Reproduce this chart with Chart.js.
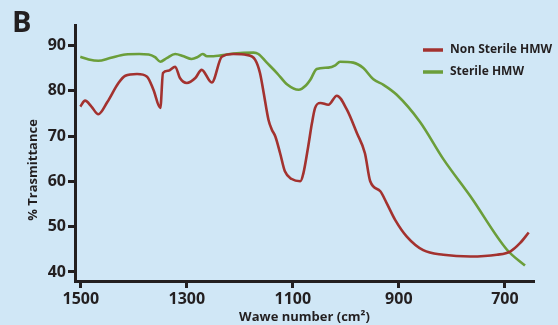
<!DOCTYPE html>
<html>
<head>
<meta charset="utf-8">
<script src="https://cdn.jsdelivr.net/npm/chart.js@4/dist/chart.umd.min.js"></script>
<style>
  html, body { margin: 0; padding: 0; background: #d0e7f6; }
  #wrap { position: relative; width: 558px; height: 325px; background: #d0e7f6; }
  #lbl { position: absolute; left: 12px; top: 1px; font: bold 29px "Open Sans", sans-serif; color: #231f20; }
  canvas { position: absolute; left: 0; top: 0; }
</style>
</head>
<body>
<div id="wrap">
  <canvas id="c" width="558" height="325"></canvas>
  <div id="lbl">B</div>
</div>
<script>
const seriesNames = ["Non Sterile HMW", "Sterile HMW"];
const xTickValues = [1500, 1300, 1100, 900, 700];
const yTickValues = [40, 50, 60, 70, 80, 90];

const nonSterileWave = [1501,1492,1480,1467,1450,1429,1416,1394,1375,1363,1350,1345,1335,1322,1313,1300,1284,1272,1253,1234,1212,1187,1171,1162,1155,1146,1140,1133,1124,1115,1102,1086,1080,1071,1064,1058,1048,1033,1017,998,979,964,954,935,923,907,885,854,816,765,715,690,671,655];
const nonSterileT    = [76.5,77.8,76.5,74.8,77.5,81.7,83.3,83.7,83.1,80.2,76.2,83.9,84.4,85.3,82.8,81.7,82.8,84.6,81.8,87.5,88.1,87.9,86.8,83.9,79.5,73.6,71.5,69.9,66.2,62.2,60.5,60.0,61.8,67.7,72.8,76.2,77.3,76.9,78.9,75.8,70.6,66.2,60.0,57.8,55.2,51.5,47.8,44.8,43.8,43.4,43.8,44.5,46.4,48.7];

const sterileWave = [1501,1485,1467,1445,1416,1390,1372,1360,1350,1338,1322,1306,1291,1280,1270,1262,1250,1212,1174,1165,1150,1130,1110,1089,1075,1067,1055,1033,1020,1011,986,967,948,929,904,860,816,765,696,662];
const sterileT    = [87.5,86.9,86.6,87.2,88.0,88.1,88.0,87.4,86.4,87.2,88.1,87.6,87.0,87.4,88.1,87.6,87.6,88.2,88.4,88.1,86.3,83.9,81.3,80.2,81.2,82.4,84.8,85.1,85.6,86.4,86.2,85.0,82.5,81.3,79.1,73.1,64.9,56.7,44.9,41.4];

const colors = ["#a3322f", "#6b9e3a"];
const dark = "#231f20";
const FONT = '"Open Sans", sans-serif';

function pts(xs, ys) { return xs.map((x, i) => ({x: x, y: ys[i]})); }

const customDraw = {
  id: 'customDraw',
  afterDraw(chart) {
    const ctx = chart.ctx;
    ctx.save();
    ctx.fillStyle = dark;
    ctx.font = 'bold 13px ' + FONT;
    ctx.translate(33, 170);
    ctx.rotate(-Math.PI / 2);
    ctx.textAlign = 'center';
    ctx.textBaseline = 'middle';
    ctx.fillText('% Trasmittance', 0, 0);
    ctx.restore();
    ctx.save();
    ctx.font = 'bold 12px ' + FONT;
    ctx.textBaseline = 'middle';
    ctx.textAlign = 'left';
    chart.data.datasets.forEach((ds, i) => {
      const y = 50 + i * 22;
      ctx.strokeStyle = ds.borderColor;
      ctx.lineWidth = 3.5;
      ctx.beginPath();
      ctx.moveTo(423, y);
      ctx.lineTo(443, y);
      ctx.stroke();
      ctx.fillStyle = dark;
      ctx.fillText(ds.label, 450, y);
    });
    ctx.restore();
  }
};

new Chart(document.getElementById('c'), {
  type: 'line',
  data: {
    datasets: [
      { label: seriesNames[0], data: pts(nonSterileWave, nonSterileT), borderColor: colors[0], borderWidth: 2.6, pointRadius: 0, cubicInterpolationMode: 'monotone', fill: false },
      { label: seriesNames[1], data: pts(sterileWave, sterileT), borderColor: colors[1], borderWidth: 2.6, pointRadius: 0, cubicInterpolationMode: 'monotone', fill: false }
    ]
  },
  options: {
    responsive: false,
    animation: false,
    events: [],
    layout: { padding: { left: 0, right: 24, top: 25, bottom: 0 } },
    plugins: { legend: { display: false }, tooltip: { enabled: false }, title: { display: false } },
    scales: {
      x: {
        type: 'linear',
        reverse: true,
        min: 645,
        max: 1511,
        afterBuildTicks(s) { s.ticks = xTickValues.map(v => ({value: v})); },
        afterFit(s) { s.height = 44; },
        grid: { drawOnChartArea: false, drawTicks: true, tickLength: 7, tickWidth: 3, tickColor: dark },
        border: { display: true, width: 3, color: dark },
        ticks: { color: dark, font: { family: FONT, size: 16, weight: 'bold' }, padding: 2, maxRotation: 0, autoSkip: false, callback: v => String(v) },
        title: { display: true, text: 'Wawe number (cm²)', color: dark, font: { family: FONT, size: 13, weight: 'bold' }, padding: { top: 0, bottom: 0 } }
      },
      y: {
        type: 'linear',
        min: 38,
        max: 94.5,
        afterBuildTicks(s) { s.ticks = yTickValues.map(v => ({value: v})); },
        afterFit(s) { s.width = 75; },
        grid: { drawOnChartArea: false, drawTicks: true, tickLength: 7, tickWidth: 3, tickColor: dark },
        border: { display: true, width: 3, color: dark },
        ticks: { color: dark, font: { family: FONT, size: 16, weight: 'bold' }, padding: 2, autoSkip: false, callback: v => String(v) }
      }
    }
  },
  plugins: [customDraw]
});
</script>
</body>
</html>
